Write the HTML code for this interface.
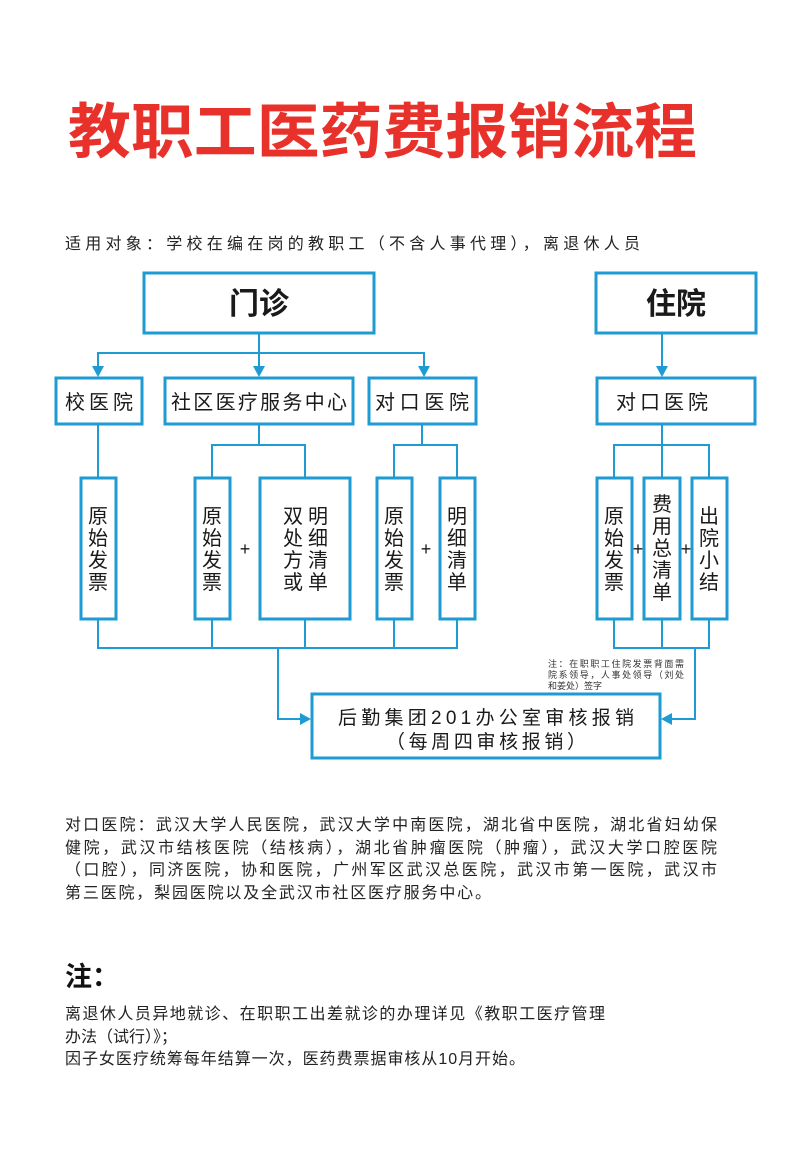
<!DOCTYPE html>
<html><head><meta charset="utf-8"><style>
html,body{margin:0;padding:0;background:#fff;}
svg{display:block;font-family:"Liberation Sans","Noto Sans CJK SC",sans-serif;}
</style></head><body>
<svg width="799" height="1176" viewBox="0 0 799 1176" xmlns="http://www.w3.org/2000/svg">
<rect width="799" height="1176" fill="#fff"/>
<text x="68" y="153" font-size="60" font-weight="bold" fill="#e8312a" textLength="629" lengthAdjust="spacingAndGlyphs">教职工医药费报销流程</text>
<text x="65" y="249" font-size="16" fill="#222" textLength="575">适用对象：学校在编在岗的教职工（不含人事代理），离退休人员</text>

<g fill="none" stroke="#1e9bd2" stroke-width="3">
<rect x="144" y="273" width="230" height="60"/>
<rect x="596" y="273" width="160" height="60"/>
<rect x="56" y="378" width="86" height="46"/>
<rect x="165" y="378" width="188" height="46"/>
<rect x="369" y="378" width="107" height="46"/>
<rect x="597" y="378" width="158" height="46"/>
<rect x="81" y="478" width="35" height="141"/>
<rect x="195" y="478" width="35" height="141"/>
<rect x="260" y="478" width="90" height="141"/>
<rect x="377" y="478" width="35" height="141"/>
<rect x="440" y="478" width="35" height="141"/>
<rect x="597" y="478" width="35" height="141"/>
<rect x="644" y="478" width="36" height="141"/>
<rect x="692" y="478" width="35" height="141"/>
<rect x="312" y="694" width="348" height="64"/>
</g>
<g fill="none" stroke="#1e9bd2" stroke-width="2">
<path d="M259 334V368 M98 368V353H424V368"/>
<path d="M662 334V368"/>
<path d="M98 425V477 M259 425V445 M212 477V445H305V477 M422 425V445 M394 477V445H457V477"/>
<path d="M662 425V445 M614 477V445H709V477 M662 445V477"/>
<path d="M98 620V648H457V620 M212 620V648 M305 620V648 M394 620V648 M278 648V719H302"/>
<path d="M614 620V648H709V620 M662 620V648 M695 648V719H670"/>
</g>
<g fill="#1e9bd2">
<path d="M92 366H104L98 377Z"/><path d="M253 366H265L259 377Z"/><path d="M418 366H430L424 377Z"/>
<path d="M656 366H668L662 377Z"/>
<path d="M300 713V725L311 719Z"/><path d="M672 713V725L661 719Z"/>
</g>

<g fill="#1a1a1a" text-anchor="middle">
<text x="259" y="314" font-size="30" font-weight="bold">门诊</text>
<text x="676" y="314" font-size="30" font-weight="bold">住院</text>
<g font-size="20">
<text x="99" y="409" textLength="68">校医院</text>
<text x="259" y="409" textLength="176">社区医疗服务中心</text>
<text x="422" y="409" textLength="94">对口医院</text>
<text x="662" y="409" textLength="92">对口医院</text>
</g>
<g font-size="20">
<text x="98" y="523">原</text><text x="98" y="545">始</text><text x="98" y="567">发</text><text x="98" y="589">票</text>
<text x="212" y="523">原</text><text x="212" y="545">始</text><text x="212" y="567">发</text><text x="212" y="589">票</text>
<text x="293" y="523">双</text><text x="293" y="545">处</text><text x="293" y="567">方</text><text x="293" y="589">或</text>
<text x="318" y="523">明</text><text x="318" y="545">细</text><text x="318" y="567">清</text><text x="318" y="589">单</text>
<text x="394" y="523">原</text><text x="394" y="545">始</text><text x="394" y="567">发</text><text x="394" y="589">票</text>
<text x="457" y="523">明</text><text x="457" y="545">细</text><text x="457" y="567">清</text><text x="457" y="589">单</text>
<text x="614" y="523">原</text><text x="614" y="545">始</text><text x="614" y="567">发</text><text x="614" y="589">票</text>
<text x="662" y="511">费</text><text x="662" y="533">用</text><text x="662" y="555">总</text><text x="662" y="577">清</text><text x="662" y="599">单</text>
<text x="709" y="523">出</text><text x="709" y="545">院</text><text x="709" y="567">小</text><text x="709" y="589">结</text>
</g>
<g font-size="18">
<text x="245" y="555">+</text><text x="426" y="555">+</text><text x="638" y="555">+</text><text x="686" y="555">+</text>
</g>
<text x="486" y="724" font-size="19" textLength="296">后勤集团201办公室审核报销</text>
<text x="486" y="748" font-size="19" textLength="200">（每周四审核报销）</text>
</g>
<g fill="#333" font-size="9">
<text x="548" y="667" textLength="136">注：在职职工住院发票背面需</text>
<text x="548" y="678" textLength="136">院系领导，人事处领导（刘处</text>
<text x="548" y="689">和姜处）签字</text>
</g>

<g fill="#222" font-size="16">
<text x="65" y="830" textLength="652">对口医院：武汉大学人民医院，武汉大学中南医院，湖北省中医院，湖北省妇幼保</text>
<text x="65" y="853" textLength="652">健院，武汉市结核医院（结核病），湖北省肿瘤医院（肿瘤），武汉大学口腔医院</text>
<text x="65" y="875" textLength="652">（口腔），同济医院，协和医院，广州军区武汉总医院，武汉市第一医院，武汉市</text>
<text x="65" y="898" textLength="426">第三医院，梨园医院以及全武汉市社区医疗服务中心。</text>
<text x="65" y="986" font-size="27" font-weight="bold" fill="#111">注：</text>
<text x="65" y="1019" textLength="540">离退休人员异地就诊、在职职工出差就诊的办理详见《教职工医疗管理</text>
<text x="65" y="1042">办法（试行）》；</text>
<text x="65" y="1064" textLength="460">因子女医疗统筹每年结算一次，医药费票据审核从10月开始。</text>
</g>
</svg>
</body></html>
